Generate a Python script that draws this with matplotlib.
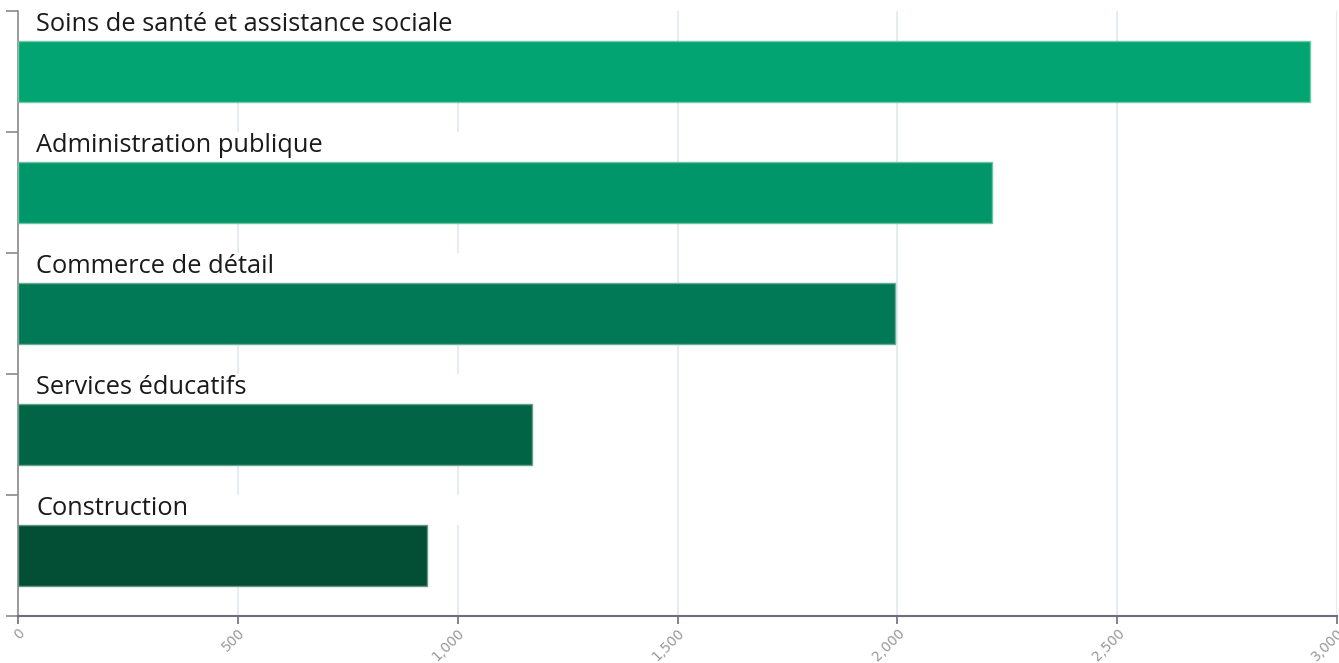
import matplotlib
matplotlib.use("Agg")
import matplotlib.pyplot as plt
from matplotlib.ticker import FuncFormatter

# secteurs et nombre d'emplois
secteurs = ["Soins de santé et assistance sociale", "Administration publique",
            "Commerce de détail", "Services éducatifs", "Construction"]
valeurs = [2938, 2215, 1995, 1169, 930]
couleurs = ["#02a472", "#01956a", "#017856", "#016445", "#024f36"]
bordures = ["#6fcaa9", "#6cc1a2", "#6aac95", "#6aa08c", "#6a9483"]
ticks_x = [0, 500, 1000, 1500, 2000, 2500, 3000]

fig = plt.figure(figsize=(13.39, 6.63), dpi=100)
ax = fig.add_axes([18 / 1339, 47 / 663, 1319 / 1339, 605 / 663])

pos = list(range(len(secteurs)))
ax.barh(pos, valeurs, height=0.5, color=couleurs, edgecolor=bordures,
        linewidth=1, zorder=3)

# bandeaux blancs derriere les libelles (cachent la grille)
for i, nom in enumerate(secteurs):
    ax.axhspan(i - 0.5, i - 0.25, xmin=0, xmax=0.38, color="white", lw=0, zorder=2)
    ax.text(41, i - 0.39, nom, va="center", ha="left", fontsize=18.3,
            family="Open Sans", color="#1a1a1a", zorder=4)

ax.set_xlim(0, 3000)
ax.set_ylim(len(secteurs) - 0.5, -0.5)
ax.set_xticks(ticks_x)
ax.xaxis.set_major_formatter(FuncFormatter(lambda v, p: f"{int(v):,}"))
ax.set_yticks([i - 0.5 for i in range(len(secteurs) + 1)])
ax.set_yticklabels([])

ax.grid(axis="x", color="#e0e8f2", linewidth=1.2, zorder=1)
ax.set_axisbelow(True)

for lab in ax.get_xticklabels():
    lab.set_rotation(45)
    lab.set_ha("right")
    lab.set_rotation_mode("anchor")
ax.tick_params(axis="x", length=6, width=1.2, color="#6e6e7a",
               labelsize=10, labelcolor="#999999", pad=1)
ax.tick_params(axis="y", length=9, width=1.2, color="#8a8a8a")

for s in ["top", "right"]:
    ax.spines[s].set_visible(False)
ax.spines["left"].set_color("#8a8a8a")
ax.spines["left"].set_linewidth(1.2)
ax.spines["bottom"].set_color("#6e6e7a")
ax.spines["bottom"].set_linewidth(1.5)

fig.savefig("out.png", dpi=100, facecolor="white")
